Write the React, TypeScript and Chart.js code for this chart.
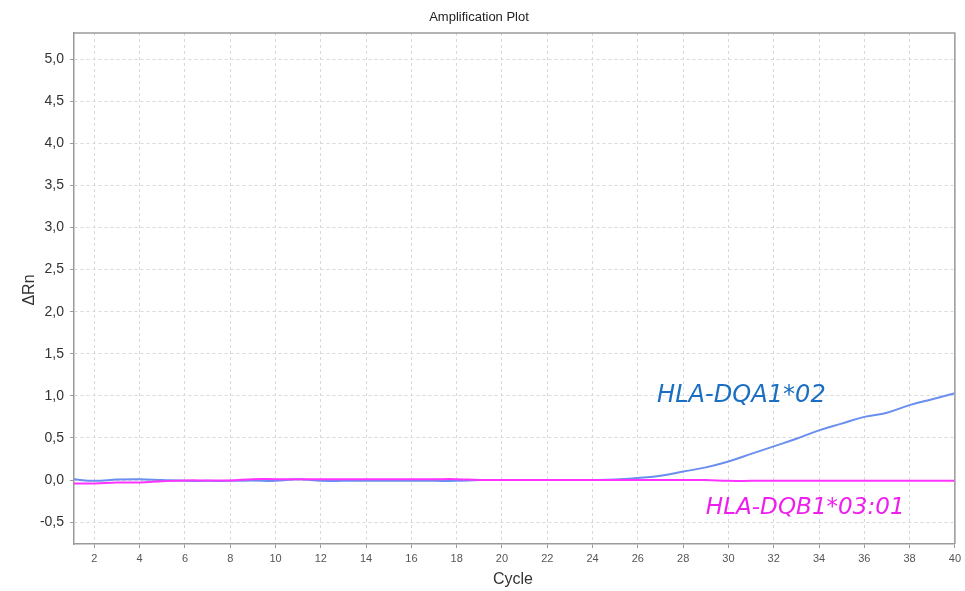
import React, { useEffect, useRef } from "react";
import { Chart, registerables } from "chart.js";

Chart.register(...registerables);

const cycles = [1, 2, 3, 4, 5, 6, 7, 8, 9, 10, 11, 12, 13, 14, 15, 16, 17, 18, 19, 20, 21, 22, 23, 24, 25, 26, 27, 28, 29, 30, 31, 32, 33, 34, 35, 36, 37, 38, 39, 40];
const dqa1Values = [0.01, -0.01, 0.005, 0.01, 0.0, -0.01, -0.01, -0.01, -0.005, -0.01, 0.01, -0.01, -0.01, -0.01, -0.01, -0.01, -0.01, -0.01, 0.0, 0.0, 0.0, 0.0, 0.0, 0.0, 0.005, 0.024, 0.05, 0.1, 0.15, 0.22, 0.31, 0.4, 0.49, 0.59, 0.67, 0.75, 0.8, 0.89, 0.96, 1.03];
const dqb1Values = [-0.04, -0.04, -0.03, -0.03, -0.015, -0.005, -0.005, -0.005, 0.01, 0.01, 0.01, 0.01, 0.01, 0.01, 0.01, 0.01, 0.01, 0.01, 0.0, 0.0, 0.0, 0.0, 0.0, 0.0, 0.0, 0.0, 0.0, 0.0, 0.0, -0.01, -0.01, -0.01, -0.01, -0.01, -0.01, -0.01, -0.01, -0.01, -0.01, -0.01];
const xTickValues = [2, 4, 6, 8, 10, 12, 14, 16, 18, 20, 22, 24, 26, 28, 30, 32, 34, 36, 38, 40];
const yTickValues = [-0.5, 0, 0.5, 1, 1.5, 2, 2.5, 3, 3.5, 4, 4.5, 5];
const seriesNames = ["HLA-DQA1*02", "HLA-DQB1*03:01"];
const chartTitle = "Amplification Plot";
const xTitle = "Cycle";
const yTitle = "ΔRn";

function fitText(ctx: any, text: string, family: string, width: number) {
  ctx.font = `italic 22px ${family}`;
  const w = ctx.measureText(text).width;
  const size = (22 * width) / w;
  ctx.font = `italic ${size.toFixed(2)}px ${family}`;
}

const textPlugin = {
  id: "textPlugin",
  afterDraw(chart: any) {
    const ctx = chart.ctx;
    const { chartArea } = chart;
    ctx.save();
    ctx.fillStyle = "#222";
    ctx.font = "13px 'Liberation Sans', Arial, sans-serif";
    ctx.textAlign = "center";
    ctx.textBaseline = "middle";
    ctx.fillText(chartTitle, 479, 17);
    ctx.font = "16px 'Liberation Sans', Arial, sans-serif";
    ctx.fillStyle = "#333";
    ctx.fillText(xTitle, 513, 580);
    ctx.save();
    ctx.translate(30, 290);
    ctx.rotate(-Math.PI / 2);
    ctx.fillText(yTitle, 0, 0);
    ctx.restore();
    ctx.strokeStyle = "#9a9a9a";
    ctx.lineWidth = 1.5;
    ctx.beginPath();
    ctx.moveTo(chartArea.left, chartArea.top);
    ctx.lineTo(chartArea.right, chartArea.top);
    ctx.lineTo(chartArea.right, chartArea.bottom);
    ctx.stroke();
    const xs = chart.scales.x;
    const ys = chart.scales.y;
    ctx.textAlign = "left";
    ctx.textBaseline = "middle";
    const fam = "'DejaVu Sans', sans-serif";
    const x1 = xs.getPixelForValue(26.85);
    const x1r = xs.getPixelForValue(34.3);
    fitText(ctx, seriesNames[0], fam, x1r - x1);
    ctx.fillStyle = "#1a6fc2";
    ctx.fillText(seriesNames[0], x1, ys.getPixelForValue(0.998));
    const x2 = xs.getPixelForValue(29.0);
    const x2r = xs.getPixelForValue(37.78);
    fitText(ctx, seriesNames[1], fam, x2r - x2);
    ctx.fillStyle = "#ee1fee";
    ctx.fillText(seriesNames[1], x2, ys.getPixelForValue(-0.333));
    ctx.restore();
  },
};

export default function App() {
  const ref = useRef<HTMLCanvasElement>(null);
  useEffect(() => {
    if (!ref.current) return;
    const toPts = (vals: number[]) => cycles.map((c, i) => ({ x: c, y: vals[i] }));
    const chart = new Chart(ref.current, {
      type: "line",
      data: {
        datasets: [
          {
            label: seriesNames[1],
            data: toPts(dqb1Values),
            borderColor: "#ff33ff",
            borderWidth: 2,
            pointRadius: 0,
            tension: 0.4,
          },
          {
            label: seriesNames[0],
            data: toPts(dqa1Values),
            borderColor: "#6a8ff0",
            borderWidth: 2,
            pointRadius: 0,
            tension: 0.4,
          },
        ],
      },
      options: {
        animation: false,
        responsive: false,
        layout: { padding: { left: 0, right: 9, top: 33, bottom: 0 } },
        plugins: { legend: { display: false }, tooltip: { enabled: false }, title: { display: false } },
        scales: {
          x: {
            type: "linear",
            min: 1.1,
            max: 40,
            afterBuildTicks: (s: any) => {
              s.ticks = xTickValues.map((v) => ({ value: v }));
            },
            afterFit: (s: any) => {
              s.height = 47;
            },
            grid: {
              color: "#d9d9d9",
              lineWidth: 1,
              drawTicks: true,
              tickLength: 4,
              tickColor: "#9a9a9a",
            },
            border: { color: "#9a9a9a", width: 1.5, dash: [3, 3] },
            ticks: {
              color: "#555",
              font: { size: 11, family: "'Liberation Sans', Arial, sans-serif" },
              maxRotation: 0,
              autoSkip: false,
              padding: 4,
              callback: (v: any) => String(v),
            },
          },
          y: {
            type: "linear",
            min: -0.76,
            max: 5.31,
            afterBuildTicks: (s: any) => {
              s.ticks = yTickValues.map((v) => ({ value: v }));
            },
            afterFit: (s: any) => {
              s.width = 74;
            },
            grid: {
              color: "#d9d9d9",
              lineWidth: 1,
              drawTicks: true,
              tickLength: 4,
              tickColor: "#9a9a9a",
            },
            border: { color: "#9a9a9a", width: 1.5, dash: [3, 3] },
            ticks: {
              color: "#333",
              font: { size: 14, family: "'Liberation Sans', Arial, sans-serif" },
              padding: 6,
              callback: (v: any) => Number(v).toFixed(1).replace(".", ","),
            },
          },
        },
      },
      plugins: [textPlugin],
    } as any);
    return () => chart.destroy();
  }, []);
  return (
    <div style={{ position: "fixed", left: 0, top: 0, width: 965, height: 591, background: "#fff" }}>
      <canvas ref={ref} width={965} height={591} style={{ width: 965, height: 591 }} />
    </div>
  );
}
